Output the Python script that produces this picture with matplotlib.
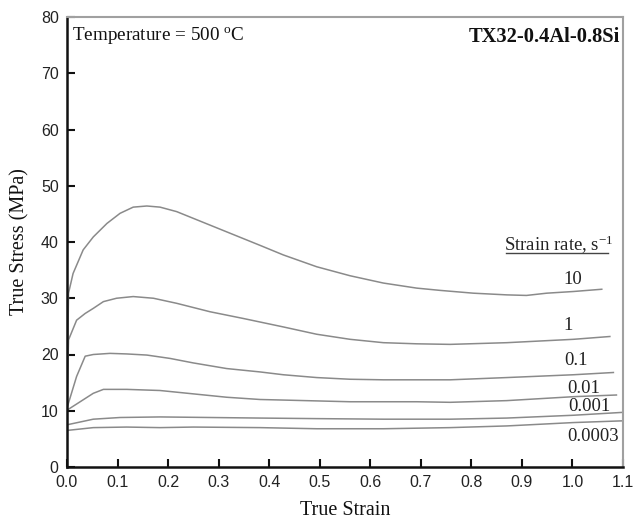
import matplotlib
matplotlib.use("Agg")
import matplotlib.pyplot as plt

plt.rcParams['mathtext.fontset'] = 'custom'
plt.rcParams['mathtext.rm'] = 'Liberation Serif'
plt.rcParams['mathtext.it'] = 'Liberation Serif:italic'

# ---- data ----
rate_labels = ["10", "1", "0.1", "0.01", "0.001", "0.0003"]

strain_10 = [0.0, 0.003, 0.012, 0.032, 0.052, 0.079, 0.105, 0.131, 0.158, 0.184, 0.217,
             0.25, 0.283, 0.316, 0.349, 0.382, 0.428, 0.494, 0.56, 0.626, 0.692, 0.738,
             0.804, 0.87, 0.909, 0.949, 1.002, 1.058]
stress_10 = [10.5, 30.9, 34.4, 38.6, 40.9, 43.3, 45.1, 46.2, 46.4, 46.2, 45.4,
             44.2, 43.0, 41.8, 40.6, 39.4, 37.7, 35.6, 34.0, 32.7, 31.8, 31.4,
             30.9, 30.6, 30.5, 30.9, 31.2, 31.6]

strain_1 = [0.0, 0.003, 0.019, 0.036, 0.052, 0.072, 0.098, 0.131, 0.171, 0.217, 0.283,
            0.349, 0.428, 0.494, 0.56, 0.626, 0.692, 0.758, 0.87, 1.002, 1.074]
stress_1 = [10.5, 22.6, 26.1, 27.3, 28.2, 29.4, 30.0, 30.3, 30.0, 29.1, 27.6,
            26.4, 24.9, 23.6, 22.7, 22.1, 21.9, 21.8, 22.1, 22.7, 23.2]

strain_01 = [0.0, 0.019, 0.036, 0.052, 0.085, 0.118, 0.158, 0.204, 0.25, 0.316, 0.382,
             0.428, 0.494, 0.56, 0.626, 0.692, 0.758, 0.87, 1.002, 1.081]
stress_01 = [10.5, 16.1, 19.7, 20.0, 20.2, 20.1, 19.9, 19.3, 18.5, 17.5, 16.9,
             16.4, 15.9, 15.6, 15.5, 15.5, 15.5, 15.9, 16.4, 16.8]

strain_001 = [0.0, 0.026, 0.052, 0.072, 0.118, 0.184, 0.25, 0.316, 0.382, 0.428, 0.56,
              0.692, 0.758, 0.87, 1.002, 1.087]
stress_001 = [10.1, 11.6, 13.1, 13.8, 13.8, 13.6, 13.0, 12.4, 12.0, 11.9, 11.6,
              11.6, 11.5, 11.8, 12.5, 12.8]

strain_0001 = [0.0, 0.052, 0.105, 0.184, 0.382, 0.494, 0.626, 0.758, 0.87, 1.002, 1.097]
stress_0001 = [7.5, 8.5, 8.8, 8.9, 8.7, 8.6, 8.5, 8.5, 8.7, 9.2, 9.7]

strain_00003 = [0.0, 0.052, 0.118, 0.184, 0.25, 0.382, 0.494, 0.626, 0.758, 0.87, 1.002, 1.097]
stress_00003 = [6.5, 7.0, 7.1, 7.0, 7.1, 7.0, 6.8, 6.8, 7.0, 7.3, 7.9, 8.2]

label_x = [1.0, 0.992, 1.008, 1.023, 1.033, 1.041]
label_y = [33.4, 25.2, 19.0, 14.0, 10.7, 5.4]

x_ticks = [0.0, 0.1, 0.2, 0.3, 0.4, 0.5, 0.6, 0.7, 0.8, 0.9, 1.0, 1.1]
y_ticks = [0, 10, 20, 30, 40, 50, 60, 70, 80]

series = [(strain_10, stress_10), (strain_1, stress_1), (strain_01, stress_01),
          (strain_001, stress_001), (strain_0001, stress_0001), (strain_00003, stress_00003)]

# ---- figure ----
fig = plt.figure(figsize=(6.35, 5.29), dpi=100)
ax = fig.add_axes([67 / 635, (529 - 467) / 529, 556 / 635, 450 / 529])

line_color = '#8a8a8a'
for xs, ys in series:
    ax.plot(xs, ys, color=line_color, lw=1.1)

serif = 'Liberation Serif'
for lab, lx, ly in zip(rate_labels, label_x, label_y):
    ax.text(lx, ly, lab, ha='center', va='center', fontsize=13.5, family=serif, color='#222222')

ax.text(0.972, 39.5, r"Strain rate, s$^{\mathregular{-1}}$", ha='center', va='center',
        fontsize=13.5, family=serif, color='#222222')
ax.plot([0.868, 1.07], [38.1, 38.1], color='#444444', lw=1.0)

ax.text(0.01, 78.5, r"Temperature = 500 $^{\mathregular{o}}$C", ha='left', va='top',
        fontsize=13.8, family=serif, color='#111111')
ax.text(1.095, 78.3, "TX32-0.4Al-0.8Si", ha='right', va='top', fontsize=14.8,
        family=serif, fontweight='bold', color='#111111')

ax.set_xlim(0, 1.1)
ax.set_ylim(0, 80)
ax.set_xticks(x_ticks)
ax.set_yticks(y_ticks)
ax.set_xticklabels([f"{v:.1f}" for v in x_ticks], family='Liberation Sans', fontsize=11.5, color='#222222')
ax.set_yticklabels([str(v) for v in y_ticks], family='Liberation Sans', fontsize=11.5, color='#222222')
ax.tick_params(direction='in', length=6, width=1.5, color='#111111', pad=6)

ax.set_xlabel("True Strain", family=serif, fontsize=14.5, labelpad=8, color='#111111')
ax.set_ylabel("True Stress (MPa)", family=serif, fontsize=14.5, labelpad=8, color='#111111')

for s in ['left', 'bottom']:
    ax.spines[s].set_color('#111111')
    ax.spines[s].set_linewidth(1.8)
for s in ['top', 'right']:
    ax.spines[s].set_color('#a0a0a0')
    ax.spines[s].set_linewidth(1.5)

fig.savefig("out.png", dpi=100)
